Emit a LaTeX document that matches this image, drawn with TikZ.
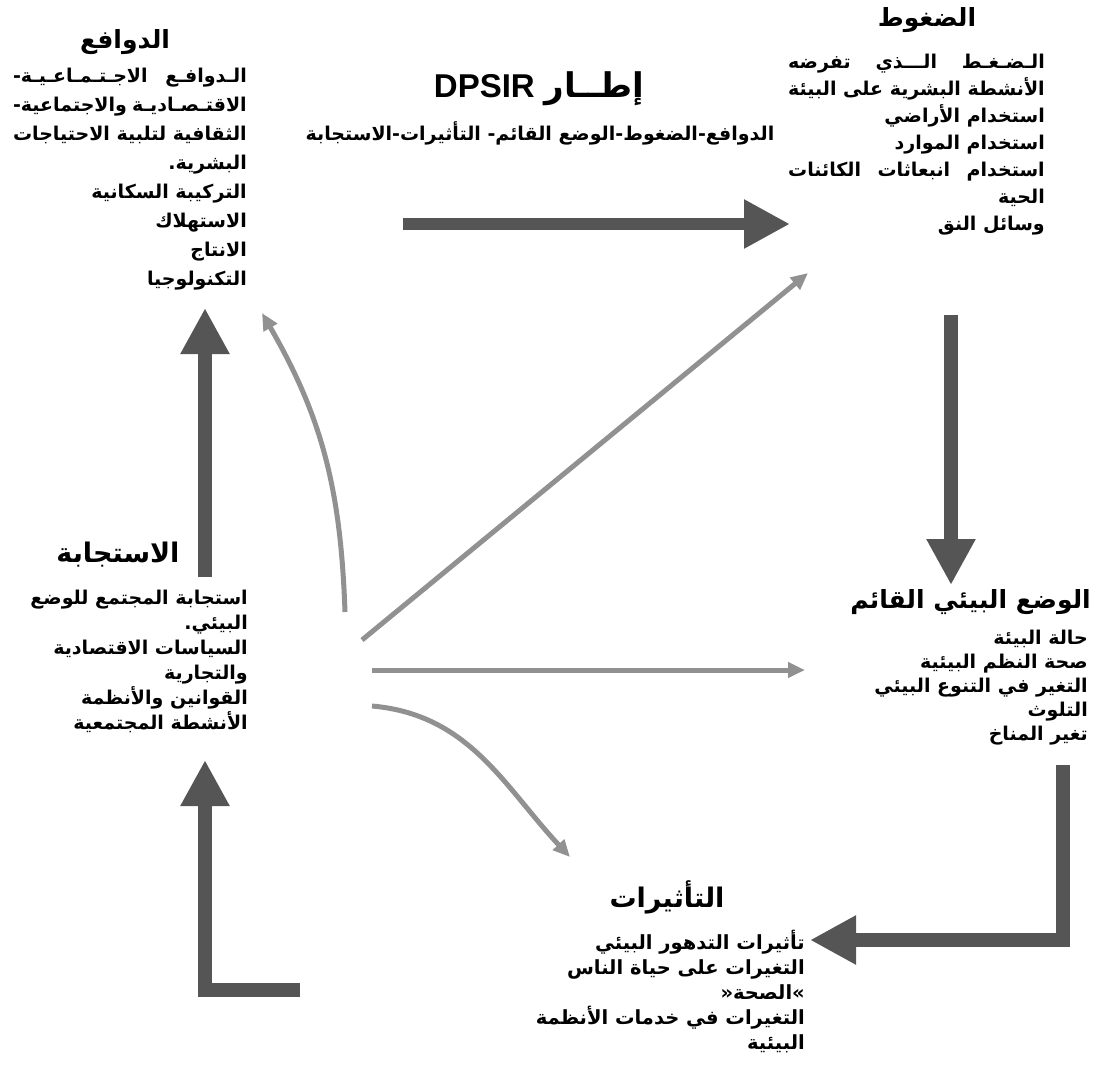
\documentclass[tikz,border=0pt]{standalone}
\usepackage{fontspec}
\newfontfamily\arabicfont[Script=Arabic]{DejaVu Sans}
\newfontfamily\latinfont{Liberation Sans}
\TeXXeTstate=1
\usetikzlibrary{arrows.meta, positioning}
\definecolor{arrowdark}{RGB}{85, 85, 85}
\definecolor{arrowlight}{RGB}{145, 145, 145}
\newcommand{\rl}[1]{\beginR #1\endR}
\newcommand{\bodyfont}{\arabicfont\bfseries\fontsize{19}{27}\selectfont}
\newlength{\drvw}
\newlength{\prsw}
\newlength{\tmpw}
% justified line, words given from left to right
\newcommand{\jl}[2]{\hbox to #1{#2}}

\begin{document}
\settowidth{\drvw}{\bodyfont\rl{الثقافية لتلبية الاحتياجات}}
\settowidth{\prsw}{\bodyfont\rl{الأنشطة البشرية على البيئة}}
\settowidth{\tmpw}{\bodyfont\rl{استخدام انبعاثات الكائنات}}
\ifdim\tmpw>\prsw \setlength{\prsw}{\tmpw}\fi
\begin{tikzpicture}[x=1pt, y=1pt,
  heading/.style={font=\arabicfont\bfseries\fontsize{25}{30}\selectfont, inner sep=0pt},
  body/.style={font=\bodyfont, align=right, inner sep=0pt, anchor=north east},
  bigarrow/.style={line width=14pt, arrowdark, -{Triangle[width=46pt, length=46pt]}},
  thinarrow/.style={line width=5pt, arrowlight, -{Triangle[width=15pt, length=17pt]}}]
  \useasboundingbox (0,0) rectangle (1093,-1071);

  % Title
  \node[inner sep=0pt] (title) at (539,-89) {\beginR{\arabicfont\bfseries\fontsize{34}{40}\selectfont إطــار}\hspace{10pt}{\latinfont\bfseries\fontsize{33}{40}\selectfont\beginL DPSIR\endL}\endR};
  \node[font=\bodyfont, inner sep=0pt] (subtitle) at (540,-133) {\rl{الدوافع-الضغوط-الوضع القائم- التأثيرات-الاستجابة}};

  % Drivers
  \node[heading] (drvhead) at (125,-42) {\rl{الدوافع}};
  \node[body, font=\arabicfont\bfseries\fontsize{19}{29}\selectfont] (drvbody) at (247,-68) {
    \jl{\drvw}{\rl{الاجـتـمـاعـيـة-}\hfill\rl{الـدوافـع}}\\
    \jl{\drvw}{\rl{والاجتماعية-}\hfill\rl{الاقتـصـاديـة}}\\
    \rl{الثقافية لتلبية الاحتياجات}\\
    \rl{البشرية.}\\
    \rl{التركيبة السكانية}\\
    \rl{الاستهلاك}\\
    \rl{الانتاج}\\
    \rl{التكنولوجيا}
  };

  % Pressures
  \node[heading] (prshead) at (927,-20) {\rl{الضغوط}};
  \node[body] (prsbody) at (1045,-54) {
    \jl{\prsw}{\rl{تفرضه}\hfill\rl{الـــذي}\hfill\rl{الـضـغـط}}\\
    \jl{\prsw}{\rl{البيئة}\hfill\rl{على}\hfill\rl{البشرية}\hfill\rl{الأنشطة}}\\
    \rl{استخدام الأراضي}\\
    \rl{استخدام الموارد}\\
    \jl{\prsw}{\rl{الكائنات}\hfill\rl{انبعاثات}\hfill\rl{استخدام}}\\
    \rl{الحية}\\
    \rl{وسائل النق}
  };

  % State
  \node[heading, anchor=east] (sthead) at (1091,-602) {\rl{الوضع البيئي القائم}};
  \node[body, font=\arabicfont\bfseries\fontsize{19}{24}\selectfont] (stbody) at (1088,-630) {
    \rl{حالة البيئة}\\
    \rl{صحة النظم البيئية}\\
    \rl{التغير في التنوع البيئي}\\
    \rl{التلوث}\\
    \rl{تغير المناخ}
  };

  % Impacts
  \node[heading, font=\arabicfont\bfseries\fontsize{27}{30}\selectfont] (imphead) at (667,-897) {\rl{التأثيرات}};
  \node[body, font=\arabicfont\bfseries\fontsize{19.5}{25}\selectfont] (impbody) at (805,-930) {
    \rl{تأثيرات التدهور البيئي}\\
    \rl{التغيرات على حياة الناس}\\
    \rl{»الصحة«}\\
    \rl{التغيرات في خدمات الأنظمة}\\
    \rl{البيئية}
  };

  % Response
  \node[heading, font=\arabicfont\bfseries\fontsize{27}{30}\selectfont] (rsphead) at (118,-555) {\rl{الاستجابة}};
  \node[body, font=\arabicfont\bfseries\fontsize{19}{25}\selectfont] (rspbody) at (248,-590) {
    \rl{استجابة المجتمع للوضع}\\
    \rl{البيئي.}\\
    \rl{السياسات الاقتصادية}\\
    \rl{والتجارية}\\
    \rl{القوانين والأنظمة}\\
    \rl{الأنشطة المجتمعية}
  };

  % Arrow ends
  \coordinate (dpStart) at (403,-224);
  \coordinate (dpEnd) at (790,-224);
  \coordinate (psStart) at (951,-315);
  \coordinate (psEnd) at (951,-585);
  \coordinate (siStart) at (1063,-765);
  \coordinate (siEnd) at (810,-940);
  \coordinate (irStart) at (300,-990);
  \coordinate (irEnd) at (205,-760);
  \coordinate (rdStart) at (205,-577);
  \coordinate (rdEnd) at (205,-308);
  \coordinate (hub) at (362,-640);

  % Main cycle
  \draw[bigarrow, line width=12pt] (dpStart) -- (dpEnd);
  \draw[bigarrow] (psStart) -- (psEnd);
  \draw[bigarrow, line join=miter] (siStart) |- (siEnd);
  \draw[bigarrow, line join=miter] (irStart) -| (irEnd);
  \draw[bigarrow] (rdStart) -- (rdEnd);

  % Response feedback
  \draw[thinarrow] ([shift={(-17,28)}]hub) to[out=92, in=-60] (262,-313);
  \draw[thinarrow] (hub) -- (808,-273);
  \draw[thinarrow] ([shift={(10,-30)}]hub) -- (805,-670);
  \draw[thinarrow] ([shift={(10,-66)}]hub) to[out=-5, in=133] (570,-857);
\end{tikzpicture}
\end{document}
